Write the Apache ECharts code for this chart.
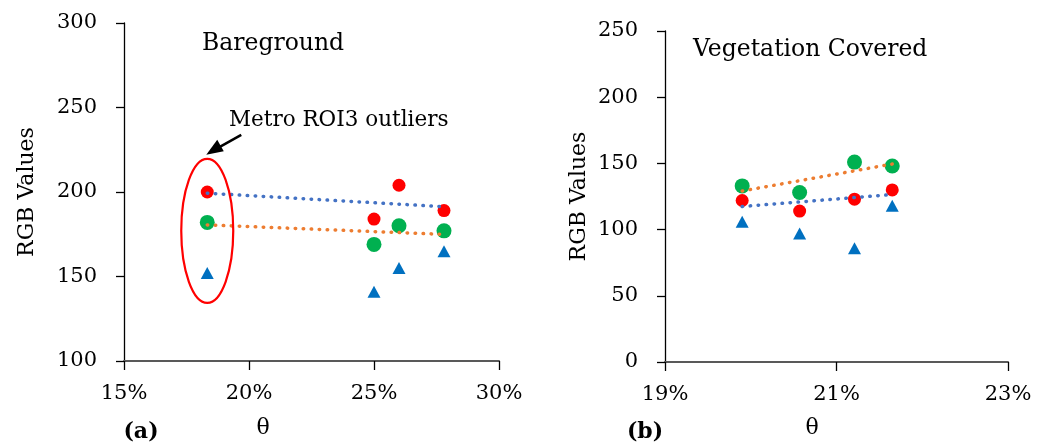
<!DOCTYPE html>
<html>
<head>
<meta charset="utf-8">
<script src="https://cdn.jsdelivr.net/npm/echarts@6/dist/echarts.min.js"></script>
<style>
html,body{margin:0;padding:0;background:#fff;}
#c{width:1047px;height:443px;}
</style>
</head>
<body>
<div id="c"></div>
<script>
// Panel (a) Bareground
const thetaA = [18.33, 25.0, 26.0, 27.8];
const redA   = [200, 184, 204, 189];
const greenA = [182, 169, 180, 177];
const blueA  = [152, 141, 155, 165];
// Panel (b) Vegetation Covered
const thetaB = [19.9, 20.57, 21.21, 21.65];
const redB   = [122, 114, 123, 130];
const greenB = [133, 128, 151, 148];
const blueB  = [106, 97, 86, 118];
// Axis ticks
const xTicksA = [15, 20, 25, 30];
const yTicksA = [100, 150, 200, 250, 300];
const xTicksB = [19, 21, 23];
const yTicksB = [0, 50, 100, 150, 200, 250];

const FONT = 'DejaVu Serif';
const RED = '#FF0000', GREEN = '#00B050', BLUE = '#0070C0';
const TR1 = '#4472C4', TR2 = '#ED7D31';

function fit(xs, ys) {
  const n = xs.length;
  const mx = xs.reduce((a, b) => a + b, 0) / n;
  const my = ys.reduce((a, b) => a + b, 0) / n;
  let sxx = 0, sxy = 0;
  for (let i = 0; i < n; i++) { sxx += (xs[i] - mx) ** 2; sxy += (xs[i] - mx) * (ys[i] - my); }
  const b = sxy / sxx, a = my - b * mx;
  const x0 = Math.min(...xs), x1 = Math.max(...xs);
  return [[x0, a + b * x0], [x1, a + b * x1]];
}
const zip = (xs, ys) => xs.map((x, i) => [x, ys[i]]);

const axisLabel = { color: '#000', fontFamily: FONT, fontSize: 21 };
function xAxis(gi, min, max, ticks) {
  return {
    type: 'value', gridIndex: gi, min: min, max: max,
    axisLine: { show: true, onZero: false, lineStyle: { color: '#595959', width: 2 } },
    axisTick: { show: true, length: 9, customValues: ticks, lineStyle: { color: '#000', width: 1.3 } },
    axisLabel: Object.assign({ margin: 22, customValues: ticks, formatter: '{value}%' }, axisLabel),
    splitLine: { show: false }
  };
}
function yAxis(gi, min, max, ticks, gap) {
  return {
    type: 'value', gridIndex: gi, min: min, max: max,
    name: 'RGB Values', nameLocation: 'middle', nameGap: gap,
    nameTextStyle: { color: '#000', fontFamily: FONT, fontSize: 22 },
    axisLine: { show: true, onZero: false, lineStyle: { color: '#000', width: 1.3 } },
    axisTick: { show: true, length: 8, customValues: ticks, lineStyle: { color: '#000', width: 1.3 } },
    axisLabel: Object.assign({ margin: 27, customValues: ticks }, axisLabel),
    splitLine: { show: false }
  };
}
function scat(gi, xs, ys, color, sym, size) {
  return {
    type: 'scatter', xAxisIndex: gi, yAxisIndex: gi, data: zip(xs, ys),
    symbol: sym, symbolSize: size, itemStyle: { color: color, opacity: 1 }, z: 2,
    emphasis: { disabled: true }
  };
}
function trend(gi, xs, ys, color) {
  return {
    type: 'line', xAxisIndex: gi, yAxisIndex: gi, data: fit(xs, ys),
    showSymbol: false, symbol: 'none', z: 5, silent: true,
    lineStyle: { color: color, width: 3.5, type: [0.5, 7.5], cap: 'round' }
  };
}

const chart = echarts.init(document.getElementById('c'), null, { renderer: 'canvas' });
chart.setOption({
  backgroundColor: '#fff',
  animation: false,
  grid: [
    { left: 124, right: 548, top: 23, bottom: 82 },
    { left: 665, right: 39, top: 31, bottom: 81 }
  ],
  xAxis: [xAxis(0, 15, 30, xTicksA), xAxis(1, 19, 23, xTicksB)],
  yAxis: [yAxis(0, 100, 300, yTicksA, 86), yAxis(1, 0, 250, yTicksB, 75)],
  series: [
    scat(0, thetaA, redA, RED, 'circle', 13),
    scat(0, thetaA, greenA, GREEN, 'circle', 15),
    scat(0, thetaA, blueA, BLUE, 'triangle', [13, 12]),
    trend(0, thetaA, redA, TR1),
    trend(0, thetaA, greenA, TR2),
    scat(1, thetaB, redB, RED, 'circle', 13),
    scat(1, thetaB, greenB, GREEN, 'circle', 15),
    scat(1, thetaB, blueB, BLUE, 'triangle', [13, 12]),
    trend(1, thetaB, redB, TR1),
    trend(1, thetaB, greenB, TR2)
  ]
});

// Annotations
const ec = chart.convertToPixel({ xAxisIndex: 0, yAxisIndex: 0 }, [thetaA[0], 177]);
const txt = (t, x, y, size, opts) => ({
  type: 'text', x: x, y: y, z: 10, silent: true,
  style: Object.assign({ text: t, fill: '#000', font: size + 'px "' + FONT + '"', align: 'left', verticalAlign: 'middle' }, opts || {})
});
const tip = [ec[0] - 1, ec[1] - 76];
const tail = [tip[0] + 35, tip[1] - 20];
chart.setOption({
  graphic: [
    { type: 'ellipse', z: 10, silent: true, shape: { cx: ec[0], cy: ec[1], rx: 26, ry: 72 },
      style: { fill: 'none', stroke: '#FF0000', lineWidth: 2.2 } },
    { type: 'line', z: 10, silent: true, shape: { x1: tail[0], y1: tail[1], x2: tip[0] + 10, y2: tip[1] - 6 },
      style: { stroke: '#000', lineWidth: 2.5 } },
    { type: 'polygon', z: 10, silent: true,
      shape: { points: [[tip[0], tip[1]], [tip[0] + 17.5, tip[1] - 3.5], [tip[0] + 11, tip[1] - 15]] },
      style: { fill: '#000' } },
    txt('Bareground', 202, 44, 23.5),
    txt('Metro ROI3 outliers', 229, 120, 21.5),
    txt('Vegetation Covered', 693, 50, 23.5),
    txt('(a)', 141, 432, 22, { align: 'center', font: 'bold 22px "' + FONT + '"' }),
    txt('θ', 263, 428, 22, { align: 'center' }),
    txt('(b)', 645, 432, 22, { align: 'center', font: 'bold 22px "' + FONT + '"' }),
    txt('θ', 812, 428, 22, { align: 'center' })
  ]
});
</script>
</body>
</html>
